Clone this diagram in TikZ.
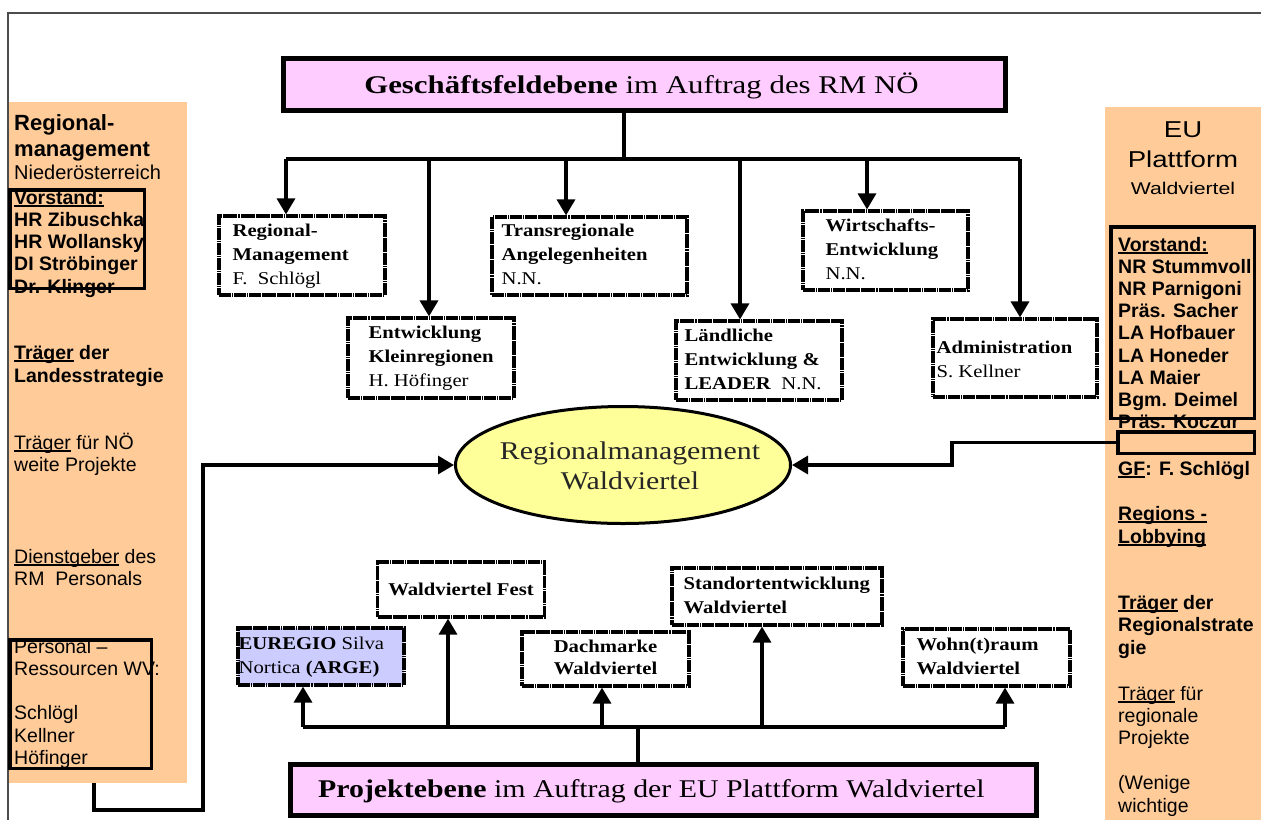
\documentclass[tikz,border=0pt]{standalone}
\usepackage{fontspec}
\usepackage{graphicx}
\setmainfont{Liberation Serif}
\newfontfamily\arialf{Liberation Sans}
\usetikzlibrary{shapes.geometric,arrows.meta}
\definecolor{orng}{HTML}{FFCC99}
\definecolor{pnk}{HTML}{FFCCFF}
\definecolor{ylw}{HTML}{FFFF99}
\definecolor{lav}{HTML}{CCCCFF}
\newcommand{\hstr}[2]{\scalebox{#1}[1]{#2}}
\newcommand{\myTL}[1]{\begin{tabular}[t]{@{}l@{}}#1\end{tabular}}
\newcommand{\myTC}[1]{\begin{tabular}[t]{@{}c@{}}#1\end{tabular}}
\newcommand{\uln}[1]{\setbox0\hbox{#1}\rlap{\rule[-2.8pt]{\wd0}{1.4pt}}\box0\relax}
\begin{document}
\begin{tikzpicture}[x=1pt,y=-1pt,line join=miter,
  conn/.style={line width=3.3pt},
  arr/.style={line width=3.3pt,-{Triangle[width=18pt,length=16pt]}},
  pbox/.style={draw,line width=3.2pt,dash pattern=on 12pt off 0.8pt on 1.5pt off 0.8pt,fill=white,inner sep=0pt},
  bt/.style={anchor=west,inner sep=0pt,font=\fontsize{18}{24}\selectfont},
  bigbox/.style={draw,line width=5pt,fill=pnk,inner sep=0pt},
  sbox/.style={draw,line width=3.5pt,inner sep=0pt},
  atxt/.style={anchor=base west,inner sep=0pt,font=\arialf\fontsize{19.5}{22.3}\selectfont},
  panel/.style={fill=orng,draw=none,inner sep=0pt}]
\useasboundingbox (0,0) rectangle (1261,820);
\fill[white] (0,0) rectangle (1261,820);

% side panels
\node[panel,minimum width=178pt,minimum height=681pt] (lp) at (98,442.5) {};
\node[panel,minimum width=156pt,minimum height=713pt] (rp) at (1183,463.5) {};

% page frame
\draw[line width=1.5pt,black!70] (1261,13) -- (8,13) -- (8,820);

% left panel text
\node[atxt,font=\arialf\bfseries\fontsize{22}{26}\selectfont] (l1) at (14,130) {\myTL{Regional-\\management}};
\node[atxt,font=\arialf\fontsize{20}{22.3}\selectfont] (l2) at (14,179) {Niederösterreich};
\node[atxt,font=\arialf\bfseries\fontsize{19.5}{22.3}\selectfont] (l3) at (14,204) {\myTL{\uln{Vorstand:}\\HR Zibuschka\\HR Wollansky\\DI Ströbinger\\Dr. Klinger}};
\node[atxt,font=\arialf\bfseries\fontsize{19.5}{23}\selectfont] (l4) at (14,359) {\myTL{\uln{Träger} der\\Landesstrategie}};
\node[atxt] (l5) at (14,449) {\myTL{\uln{Träger} für NÖ\\weite Projekte}};
\node[atxt] (l6) at (14,563) {\myTL{\uln{Dienstgeber} des\\RM\ \ Personals}};
\node[atxt] (l7) at (14,653) {\myTL{Personal –\\Ressourcen WV:\\ \\Schlögl\\Kellner\\Höfinger}};
\node[sbox,minimum width=134.5pt,minimum height=98.5pt] (lv) at (77,239) {};
\node[sbox,minimum width=141.5pt,minimum height=128.5pt] (lpers) at (80.5,704) {};

% right panel text
\node[inner sep=0pt,anchor=base,font=\arialf\fontsize{23}{30}\selectfont] (r1) at (1183,137) {\hstr{1.2}{\myTC{EU\\Plattform}}};
\node[inner sep=0pt,anchor=base,font=\arialf\fontsize{17}{20}\selectfont] (r2) at (1183,194) {\hstr{1.25}{Waldviertel}};
\node[atxt,font=\arialf\bfseries\fontsize{19.5}{22.2}\selectfont] (r3) at (1118,251) {\myTL{\uln{Vorstand:}\\NR Stummvoll\\NR Parnigoni\\Präs. Sacher\\LA Hofbauer\\LA Honeder\\LA Maier\\Bgm. Deimel\\Präs. Koczur}};
\node[sbox,minimum width=143.5pt,minimum height=191.5pt] (rv) at (1182.5,322.5) {};
\node[sbox,fill=orng,minimum width=136.5pt,minimum height=21.5pt] (emp) at (1186,442.5) {};
\node[atxt,font=\arialf\bfseries\fontsize{19.5}{22.3}\selectfont] (r4) at (1118,475) {\uln{GF}: F. Schlögl};
\node[atxt,font=\arialf\bfseries\fontsize{19.5}{23}\selectfont] (r5) at (1118,520) {\myTL{\uln{Regions -}\\\uln{Lobbying}}};
\node[atxt,font=\arialf\bfseries\fontsize{19.5}{22.5}\selectfont] (r6) at (1118,609) {\myTL{\uln{Träger} der\\Regionalstrate\\gie}};
\node[atxt,font=\arialf\fontsize{19.5}{22.4}\selectfont] (r7) at (1118,700) {\myTL{\uln{Träger} für\\regionale\\Projekte\\ \\(Wenige\\wichtige}};

% top level box
\node[bigbox,minimum width=722pt,minimum height=52pt] (top) at (644.5,84.5) {};
\node[inner sep=0pt,font=\fontsize{25.5}{30}\selectfont] (top-t) at (641.5,86) {\hstr{1.21}{\textbf{Geschäftsfeldebene} im Auftrag des RM NÖ}};

% upper boxes
\node[pbox,minimum width=166pt,minimum height=79pt] (rm) at (302,255.5) {};
\node[bt] (rm-t) at ([xshift=15pt]rm.west) {\hstr{1.15}{\myTL{\textbf{Regional-}\\\textbf{Management}\\F.\ \ Schlögl}}};
\node[pbox,minimum width=166pt,minimum height=80pt] (ek) at (431,358) {};
\node[bt] (ek-t) at ([xshift=22pt]ek.west) {\hstr{1.15}{\myTL{\textbf{Entwicklung}\\\textbf{Kleinregionen}\\H. Höfinger}}};
\node[pbox,minimum width=195pt,minimum height=78pt] (tr) at (589.5,256) {};
\node[bt] (tr-t) at ([xshift=11pt]tr.west) {\hstr{1.15}{\myTL{\textbf{Transregionale}\\\textbf{Angelegenheiten}\\N.N.}}};
\node[pbox,minimum width=166pt,minimum height=79pt] (la) at (759,360.5) {};
\node[bt] (la-t) at ([xshift=10pt]la.west) {\hstr{1.15}{\myTL{\textbf{Ländliche}\\\textbf{Entwicklung \&}\\\textbf{LEADER}\ \ N.N.}}};
\node[pbox,minimum width=165pt,minimum height=79pt] (wi) at (885.5,250.5) {};
\node[bt] (wi-t) at ([xshift=24pt]wi.west) {\hstr{1.15}{\myTL{\textbf{Wirtschafts-}\\\textbf{Entwicklung}\\N.N.}}};
\node[pbox,minimum width=164pt,minimum height=78pt] (ad) at (1015,358) {};
\node[bt] (ad-t) at ([xshift=5pt,yshift=-3pt]ad.west) {\hstr{1.15}{\myTL{\textbf{Administration}\\S. Kellner}}};

% tree connectors
\coordinate (tj) at (624,159);
\coordinate (b1) at (286,159);
\coordinate (b2) at (429,159);
\coordinate (b3) at (566,159);
\coordinate (b4) at (740,159);
\coordinate (b5) at (867,159);
\coordinate (b6) at (1020,159);
\draw[conn] (top.south -| tj) -- (tj);
\draw[conn] (b1) -- (b6);
\draw[arr] (b1) -- (b1 |- rm.north);
\draw[arr] (b2) -- (b2 |- ek.north);
\draw[arr] (b3) -- (b3 |- tr.north);
\draw[arr] (b4) -- (b4 |- la.north);
\draw[arr] (b5) -- (b5 |- wi.north);
\draw[arr] (b6) -- (b6 |- ad.north);

% ellipse
\node[ellipse,draw,line width=3pt,fill=ylw,minimum width=335pt,minimum height=117pt,inner sep=0pt] (ell) at (623,465) {};
\node[inner sep=0pt,font=\fontsize{25.5}{30}\selectfont,text=black!85] (ell-t) at (630,468) {\hstr{1.17}{\myTC{Regionalmanagement\\Waldviertel}}};

% connectors to ellipse
\coordinate (lc1) at (94,783);
\coordinate (lc2) at (94,810);
\coordinate (lc3) at (203,810);
\draw[arr] (lc1) -- (lc2) -- (lc3) |- (ell.west);
\coordinate (rc1) at (952,465);
\draw[arr] (emp.west) -| (rc1) -- (ell.east);

% lower boxes
\node[pbox,minimum width=167pt,minimum height=55pt] (fest) at (461,589.5) {};
\node[inner sep=0pt,font=\fontsize{18}{24}\selectfont] (fest-t) at (fest.center) {\hstr{1.15}{\textbf{Waldviertel Fest}}};
\node[pbox,fill=lav,minimum width=166pt,minimum height=57pt] (eu) at (321,656.5) {};
\node[bt] (eu-t) at ([xshift=2pt]eu.west) {\hstr{1.15}{\myTL{\textbf{EUREGIO} Silva\\Nortica \textbf{(ARGE)}}}};
\node[pbox,minimum width=167pt,minimum height=54pt] (dm) at (605.5,659) {};
\node[inner sep=0pt,font=\fontsize{18}{22.5}\selectfont] (dm-t) at (dm.center) {\hstr{1.15}{\myTC{\textbf{Dachmarke}\\\textbf{Waldviertel}}}};
\node[pbox,minimum width=210pt,minimum height=57pt] (st) at (777,596.5) {};
\node[bt] (st-t) at ([xshift=13pt]st.west) {\hstr{1.15}{\myTL{\textbf{Standortentwicklung}\\\textbf{Waldviertel}}}};
\node[pbox,minimum width=167pt,minimum height=57pt] (wo) at (986.5,657.5) {};
\node[bt] (wo-t) at ([xshift=15pt]wo.west) {\hstr{1.15}{\myTL{\textbf{Wohn(t)raum}\\\textbf{Waldviertel}}}};

% bottom box
\node[bigbox,minimum width=746pt,minimum height=51pt] (bot) at (663,790) {};
\node[anchor=west,inner sep=0pt,font=\fontsize{25.5}{30}\selectfont] (bot-t) at (318,791) {\hstr{1.17}{\textbf{Projektebene} im Auftrag der EU Plattform Waldviertel}};

% bottom connectors
\coordinate (pj) at (638,727);
\coordinate (p1) at (303,727);
\coordinate (p2) at (448,727);
\coordinate (p3) at (602,727);
\coordinate (p4) at (762,727);
\coordinate (p5) at (1005,727);
\draw[conn] (bot.north -| pj) -- (pj);
\draw[conn] (p1) -- (p5);
\draw[arr] (p1) -- (p1 |- eu.south);
\draw[arr] (p2) -- (p2 |- fest.south);
\draw[arr] (p3) -- (p3 |- dm.south);
\draw[arr] (p4) -- (p4 |- st.south);
\draw[arr] (p5) -- (p5 |- wo.south);
\end{tikzpicture}
\end{document}
